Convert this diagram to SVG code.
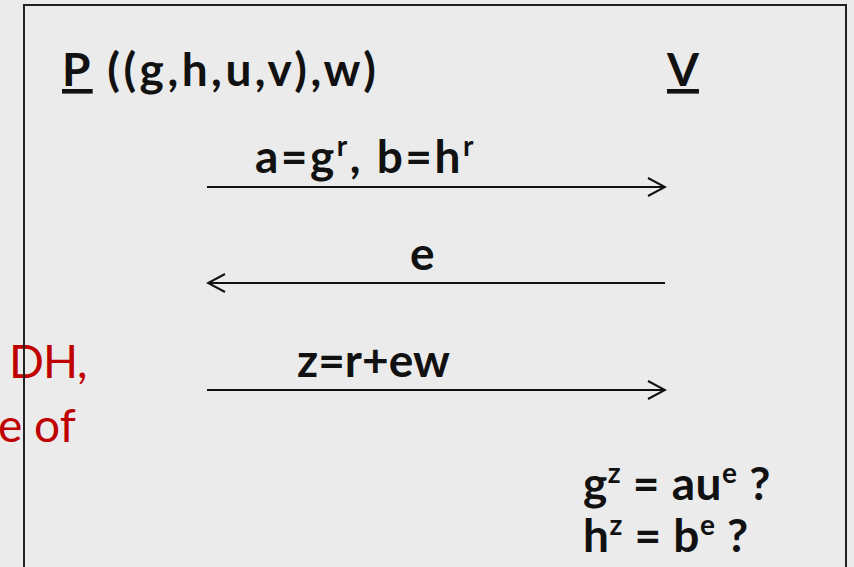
<svg xmlns="http://www.w3.org/2000/svg" width="854" height="567" viewBox="0 0 854 567">
<defs>
<style>
.t{font-family:Lato,"Open Sans","Liberation Sans",sans-serif;font-weight:bold;fill:#111;font-size:46px}
.s{font-size:28px}
.r{font-family:Lato,"Open Sans","Liberation Sans",sans-serif;fill:#c00000;font-size:46px}
.c{stroke:#111;stroke-width:2;fill:none}
</style>
<marker id="ah" viewBox="0 0 20 20" refX="18" refY="10" markerWidth="20" markerHeight="20" markerUnits="userSpaceOnUse" orient="auto">
<path d="M1,1 L18,10 L1,19" fill="none" stroke="#111" stroke-width="2"/>
</marker>
</defs>
<rect x="0" y="0" width="854" height="567" fill="#ebebeb"/>
<g id="red-text">
<text class="r" x="9" y="378" letter-spacing="-1">DH,</text>
<text class="r" x="-2" y="442">e of</text>
</g>
<path d="M24,567 V5 H846 V567" fill="none" stroke="#222" stroke-width="2"/>
<g id="P">
<text class="t" x="62" y="86" letter-spacing="3.5"><tspan text-decoration="underline">P</tspan> ((g,h,u,v),w)</text>
</g>
<g id="V">
<text class="t" x="667" y="86" text-decoration="underline">V</text>
</g>
<g id="connectors">
<line class="c" x1="207" y1="187" x2="665" y2="187" marker-end="url(#ah)"/>
<line class="c" x1="665" y1="283" x2="208" y2="283" marker-end="url(#ah)"/>
<line class="c" x1="207" y1="390" x2="665" y2="390" marker-end="url(#ah)"/>
</g>
<g id="labels">
<text class="t" x="255" y="173" letter-spacing="2.5">a=g<tspan class="s" dy="-17">r</tspan><tspan dy="17">, b=h</tspan><tspan class="s" dy="-17">r</tspan></text>
<text class="t" x="410" y="270">e</text>
<text class="t" x="297" y="377">z=r+ew</text>
</g>
<g id="check">
<text class="t" x="583" y="500" letter-spacing="0.5">g<tspan class="s" dy="-17">z</tspan><tspan dy="17"> = au</tspan><tspan class="s" dy="-17">e</tspan><tspan dy="17"> ?</tspan></text>
<text class="t" x="583" y="552" letter-spacing="0.5">h<tspan class="s" dy="-17">z</tspan><tspan dy="17"> = b</tspan><tspan class="s" dy="-17">e</tspan><tspan dy="17"> ?</tspan></text>
</g>
</svg>
